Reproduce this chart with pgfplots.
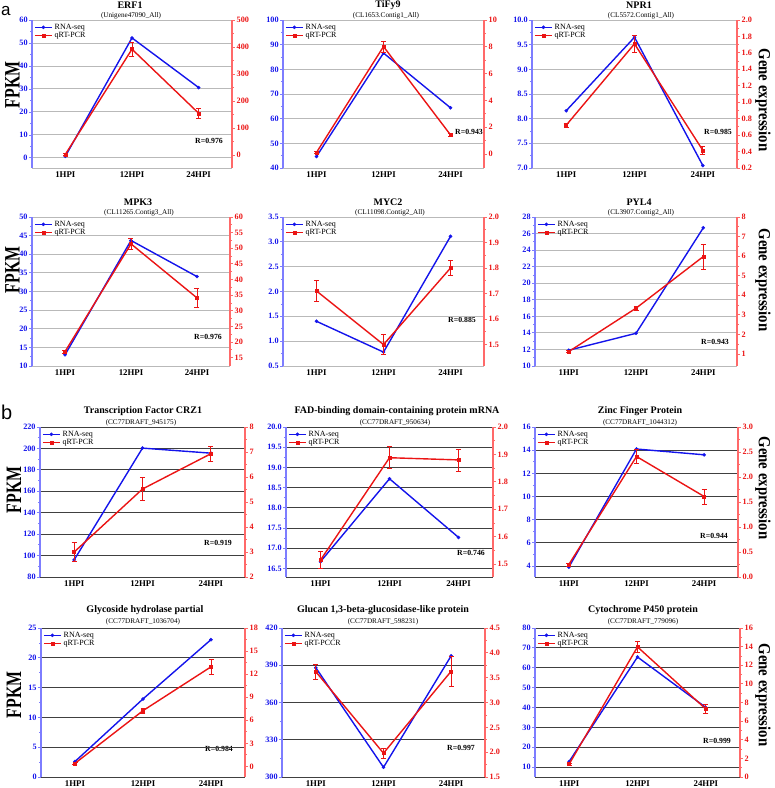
\documentclass[border=0pt]{standalone}
\usepackage{fontspec}
\setmainfont{Liberation Serif}
\newfontfamily\sfa{Liberation Sans}
\usepackage{graphicx}
\usepackage{pgfplots}
\pgfplotsset{compat=1.18}
\definecolor{lb}{RGB}{20,20,235}
\definecolor{lr}{RGB}{235,20,20}
\definecolor{axb}{RGB}{125,125,255}
\definecolor{axr}{RGB}{255,105,105}
\pgfplotsset{
 every axis/.append style={scale only axis, xmin=-0.5, xmax=2.5, clip=false,
   /pgf/number format/assume math mode=true, scaled y ticks=false,
   tick align=outside, major tick length=3pt, minor tick length=1.8pt, minor y tick num=1},
 bx/.style n args={4}{at={(#1pt,-#2pt)}, anchor=south west, width=#3pt, height=#4pt},
 L/.style={axis y line*=left, axis x line*=bottom, xtick={0,1,2}, xticklabels={1HPI,12HPI,24HPI},
   xticklabel style={font=\fontsize{8.8}{9}\selectfont\bfseries, text=black, inner sep=0.5pt},
   xtick style={draw=none},
   yticklabel style={font=\fontsize{8.2}{9}\selectfont\bfseries, text=lb, inner sep=1.2pt},
   y axis line style={axb, line width=1.3pt}, ytick style={axb, line width=0.8pt}, ymajorgrids},
 gA/.style={grid style={gray!55, line width=0.9pt}, x axis line style={gray!55, line width=0.9pt}},
 gB/.style={grid style={black!75, line width=0.9pt}, x axis line style={black!75, line width=0.9pt}},
 R/.style={axis y line*=right, axis x line=none, xtick=\empty,
   yticklabel style={font=\fontsize{8.2}{9}\selectfont\bfseries, text=lr, inner sep=1.5pt},
   y axis line style={axr, line width=1.3pt}, ytick style={axr, line width=0.8pt},
   legend style={at={(0.005,0.995)}, anchor=north west, draw=none, fill=none,
     font=\fontsize{8}{8}\selectfont, row sep=-2.5pt, inner sep=1pt},
   legend cell align=left},
 f1/.style={yticklabel style={/pgf/number format/fixed, /pgf/number format/fixed zerofill, /pgf/number format/precision=1}},
 rna/.style={lb, line width=1.4pt, mark=*, mark size=1.6pt, mark options={line width=0.4pt}},
 qpcr/.style={lr, line width=1.4pt, mark=square*, mark size=1.5pt, mark options={line width=0.4pt},
   error bars/y dir=both, error bars/y explicit,
   error bars/error bar style={lr, line width=0.7pt},
   error bars/error mark options={lr, rotate=90, mark size=2.5pt, line width=0.7pt}},
}
\begin{document}
\begin{tikzpicture}
% ---------- panel letters ----------
\node[font=\sfa\fontsize{17}{17}\selectfont, inner sep=0pt, anchor=base west] at (1pt,-15pt) {a};
\node[font=\sfa\fontsize{20}{20}\selectfont, inner sep=0pt, anchor=base west] at (1pt,-419pt) {b};
% ---------- axis titles ----------
\tikzset{fp/.style={rotate=90, inner sep=0pt}, ge/.style={rotate=-90, inner sep=0pt}}
\newcommand{\FP}{\scalebox{0.72}[1.0]{\fontsize{22}{22}\selectfont\bfseries FPKM}}
\newcommand{\GE}{\scalebox{0.87}[1.0]{\fontsize{17}{17}\selectfont\bfseries Gene expression}}
\node[fp] at (12.5pt,-85pt) {\FP};
\node[fp] at (12.5pt,-270pt) {\FP};
\node[fp] at (14pt,-490pt) {\FP};
\node[fp] at (14pt,-695pt) {\FP};
\node[ge] at (763pt,-100pt) {\GE};
\node[ge] at (763pt,-280pt) {\GE};
\node[ge] at (763pt,-488pt) {\GE};
\node[ge] at (763pt,-695pt) {\GE};
% ---------- titles ----------
\tikzset{tt/.style={font=\fontsize{10}{10}\selectfont\bfseries}, st/.style={font=\fontsize{7.2}{7}\selectfont}, rl/.style={font=\fontsize{7.8}{8}\selectfont\bfseries}}
\node[tt] at (130pt,-5pt) {ERF1};            \node[st] at (131pt,-16pt) {(Unigene47090\_All)};
\node[tt] at (388pt,-5pt) {TiFy9};           \node[st] at (386pt,-16pt) {(CL1653.Contig1\_All)};
\node[tt] at (639pt,-5pt) {NPR1};            \node[st] at (641pt,-16pt) {(CL5572.Contig1\_All)};
\node[tt] at (138pt,-202pt) {MPK3};          \node[st] at (139pt,-213pt) {(CL11265.Contig3\_All)};
\node[tt] at (388pt,-202pt) {MYC2};          \node[st] at (390pt,-213pt) {(CL11098.Contig2\_All)};
\node[tt] at (639pt,-202pt) {PYL4};          \node[st] at (641pt,-213pt) {(CL3907.Contig2\_All)};
\node[tt] at (143pt,-411pt) {Transcription Factor CRZ1};          \node[st] at (141pt,-423pt) {(CC77DRAFT\_945175)};
\node[tt] at (397pt,-411pt) {FAD-binding domain-containing protein mRNA}; \node[st] at (395pt,-423pt) {(CC77DRAFT\_950634)};
\node[tt] at (640pt,-411pt) {Zinc Finger Protein};                \node[st] at (640pt,-423pt) {(CC77DRAFT\_1044312)};
\node[tt] at (145pt,-610pt) {Glycoside hydrolase partial};        \node[st] at (143pt,-622pt) {(CC77DRAFT\_1036704)};
\node[tt] at (383pt,-610pt) {Glucan 1,3-beta-glucosidase-like protein}; \node[st] at (383pt,-622pt) {(CC77DRAFT\_598231)};
\node[tt] at (643pt,-610pt) {Cytochrome P450 protein};            \node[st] at (643pt,-622pt) {(CC77DRAFT\_779096)};
% ---------- R labels ----------
\node[rl] at (209pt,-141pt) {R=0.976};
\node[rl] at (469pt,-132pt) {R=0.943};
\node[rl] at (718pt,-132pt) {R=0.985};
\node[rl] at (208pt,-337pt) {R=0.976};
\node[rl] at (462pt,-320pt) {R=0.885};
\node[rl] at (715pt,-342pt) {R=0.943};
\node[rl] at (218pt,-543pt) {R=0.919};
\node[rl] at (471pt,-553pt) {R=0.746};
\node[rl] at (714pt,-536pt) {R=0.944};
\node[rl] at (219pt,-749pt) {R=0.984};
\node[rl] at (461pt,-748pt) {R=0.997};
\node[rl] at (717pt,-741pt) {R=0.999};

% ===== ERF1 =====
\begin{axis}[L,gA,bx={32}{168}{200}{148}, ymin=-4.4,ymax=60, ytick={0,10,20,30,40,50,60}]
\addplot[rna] coordinates {(0,0.7) (1,52.2) (2,30.6)};
\end{axis}
\begin{axis}[R,bx={32}{168}{200}{148}, ymin=-47.5,ymax=500, ytick={0,100,200,300,400,500}]
\addlegendimage{rna}\addlegendentry{RNA-seq}
\addplot[qpcr] coordinates {(0,3) +- (0,5) (1,392) +- (0,27) (2,155) +- (0,18)};
\addlegendentry{qRT-PCR}
\end{axis}
% ===== TiFy9 =====
\begin{axis}[L,gA,bx={283}{168}{201}{148}, ymin=40,ymax=100, ytick={40,50,60,70,80,90,100}]
\addplot[rna] coordinates {(0,44.7) (1,86.6) (2,64.4)};
\end{axis}
\begin{axis}[R,bx={283}{168}{201}{148}, ymin=-1.04,ymax=10, ytick={0,2,4,6,8,10}]
\addlegendimage{rna}\addlegendentry{RNA-seq}
\addplot[qpcr] coordinates {(0,0.12) +- (0,0.06) (1,8.02) +- (0,0.4) (2,1.43) +- (0,0.1)};
\addlegendentry{qRT-PCR}
\end{axis}
% ===== NPR1 =====
\begin{axis}[L,gA,f1,bx={532}{168}{205}{148}, ymin=7,ymax=10, ytick={7,7.5,8,8.5,9,9.5,10}]
\addplot[rna] coordinates {(0,8.16) (1,9.65) (2,7.05)};
\end{axis}
\begin{axis}[R,f1,bx={532}{168}{205}{148}, ymin=0.2,ymax=2, ytick={0.2,0.4,0.6,0.8,1.0,1.2,1.4,1.6,1.8,2.0}]
\addlegendimage{rna}\addlegendentry{RNA-seq}
\addplot[qpcr] coordinates {(0,0.72) +- (0,0.02) (1,1.71) +- (0,0.1) (2,0.415) +- (0,0.05)};
\addlegendentry{qRT-PCR}
\end{axis}
% ===== MPK3 =====
\begin{axis}[L,gA,bx={32}{366}{198}{149}, ymin=10,ymax=50, ytick={10,15,20,25,30,35,40,45,50}]
\addplot[rna] coordinates {(0,13.0) (1,43.7) (2,34.0)};
\end{axis}
\begin{axis}[R,bx={32}{366}{198}{149}, ymin=12.3,ymax=60, ytick={15,20,25,30,35,40,45,50,55,60}]
\addlegendimage{rna}\addlegendentry{RNA-seq}
\addplot[qpcr] coordinates {(0,16.9) +- (0,0.5) (1,51.4) +- (0,1.9) (2,34.1) +- (0,3)};
\addlegendentry{qRT-PCR}
\end{axis}
% ===== MYC2 =====
\begin{axis}[L,gA,f1,bx={283}{366}{201}{149}, ymin=0.5,ymax=3.5, ytick={0.5,1.0,1.5,2.0,2.5,3.0,3.5}]
\addplot[rna] coordinates {(0,1.40) (1,0.78) (2,3.11)};
\end{axis}
\begin{axis}[R,f1,bx={283}{366}{201}{149}, ymin=1.416,ymax=2, ytick={1.5,1.6,1.7,1.8,1.9,2.0}]
\addlegendimage{rna}\addlegendentry{RNA-seq}
\addplot[qpcr] coordinates {(0,1.71) +- (0,0.04) (1,1.50) +- (0,0.04) (2,1.80) +- (0,0.03)};
\addlegendentry{qRT-PCR}
\end{axis}
% ===== PYL4 =====
\begin{axis}[L,gA,bx={535}{366}{202}{149}, ymin=10,ymax=28, ytick={10,12,14,16,18,20,22,24,26,28}]
\addplot[rna] coordinates {(0,11.9) (1,13.95) (2,26.7)};
\end{axis}
\begin{axis}[R,bx={535}{366}{202}{149}, ymin=0.386,ymax=8, ytick={1,2,3,4,5,6,7,8}]
\addlegendimage{rna}\addlegendentry{RNA-seq}
\addplot[qpcr] coordinates {(0,1.12) +- (0,0.05) (1,3.34) +- (0,0.1) (2,5.98) +- (0,0.64)};
\addlegendentry{qRT-PCR}
\end{axis}
% ===== CRZ1 =====
\begin{axis}[L,gB,bx={40}{577}{205}{150}, ymin=80,ymax=220, ytick={80,100,120,140,160,180,200,220}]
\addplot[rna] coordinates {(0,96) (1,200.3) (2,195.6)};
\end{axis}
\begin{axis}[R,bx={40}{577}{205}{150}, ymin=2,ymax=8, ytick={2,3,4,5,6,7,8}]
\addlegendimage{rna}\addlegendentry{RNA-seq}
\addplot[qpcr] coordinates {(0,3.0) +- (0,0.38) (1,5.52) +- (0,0.47) (2,6.93) +- (0,0.3)};
\addlegendentry{qRT-PCR}
\end{axis}
% ===== FAD =====
\begin{axis}[L,gB,f1,bx={286}{577}{207}{150}, ymin=16.29,ymax=20, ytick={16.5,17.0,17.5,18.0,18.5,19.0,19.5,20.0}]
\addplot[rna] coordinates {(0,16.67) (1,18.72) (2,17.27)};
\end{axis}
\begin{axis}[R,f1,bx={286}{577}{207}{150}, ymin=1.453,ymax=2, ytick={1.5,1.6,1.7,1.8,1.9,2.0}]
\addlegendimage{rna}\addlegendentry{RNA-seq}
\addplot[qpcr] coordinates {(0,1.515) +- (0,0.032) (1,1.888) +- (0,0.04) (2,1.88) +- (0,0.04)};
\addlegendentry{qRT-PCR}
\end{axis}
% ===== Zinc =====
\begin{axis}[L,gB,bx={535}{577}{203}{150}, ymin=3.05,ymax=16, ytick={4,6,8,10,12,14,16}]
\addplot[rna] coordinates {(0,3.9) (1,14.1) (2,13.6)};
\end{axis}
\begin{axis}[R,f1,bx={535}{577}{203}{150}, ymin=0,ymax=3, ytick={0,0.5,1.0,1.5,2.0,2.5,3.0}]
\addlegendimage{rna}\addlegendentry{RNA-seq}
\addplot[qpcr] coordinates {(0,0.25) +- (0,0.03) (1,2.41) +- (0,0.14) (2,1.61) +- (0,0.15)};
\addlegendentry{qRT-PCR}
\end{axis}
% ===== Glycoside =====
\begin{axis}[L,gB,bx={41}{777}{204}{149}, ymin=0,ymax=25, ytick={0,5,10,15,20,25}]
\addplot[rna] coordinates {(0,2.6) (1,13.1) (2,23.05)};
\end{axis}
\begin{axis}[R,bx={41}{777}{204}{149}, ymin=-1.38,ymax=18, ytick={0,3,6,9,12,15,18}]
\addlegendimage{rna}\addlegendentry{RNA-seq}
\addplot[qpcr] coordinates {(0,0.4) +- (0,0.1) (1,7.25) +- (0,0.3) (2,12.95) +- (0,1.0)};
\addlegendentry{qRT-PCR}
\end{axis}
% ===== Glucan =====
\begin{axis}[L,gB,bx={282}{777}{203}{149}, ymin=300,ymax=420, ytick={300,330,360,390,420}]
\addplot[rna] coordinates {(0,388) (1,307.8) (2,397.6)};
\end{axis}
\begin{axis}[R,f1,bx={282}{777}{203}{149}, ymin=1.5,ymax=4.5, ytick={1.5,2.0,2.5,3.0,3.5,4.0,4.5}]
\addlegendimage{rna}\addlegendentry{RNA-seq}
\addplot[qpcr] coordinates {(0,3.62) +- (0,0.15) (1,1.98) +- (0,0.1) (2,3.63) +- (0,0.3)};
\addlegendentry{qRT-PCCR}
\end{axis}
% ===== Cytochrome =====
\begin{axis}[L,gB,bx={535}{777}{205}{149}, ymin=5,ymax=80, ytick={10,20,30,40,50,60,70,80}]
\addplot[rna] coordinates {(0,12.8) (1,65.4) (2,40.0)};
\end{axis}
\begin{axis}[R,bx={535}{777}{205}{149}, ymin=0,ymax=16, ytick={0,2,4,6,8,10,12,14,16}]
\addlegendimage{rna}\addlegendentry{RNA-seq}
\addplot[qpcr] coordinates {(0,1.39) +- (0,0.1) (1,13.97) +- (0,0.6) (2,7.3) +- (0,0.45)};
\addlegendentry{qRT-PCR}
\end{axis}

\pgfresetboundingbox
\path[use as bounding box] (0pt,0pt) rectangle (775pt,-788pt);
\end{tikzpicture}
\end{document}
